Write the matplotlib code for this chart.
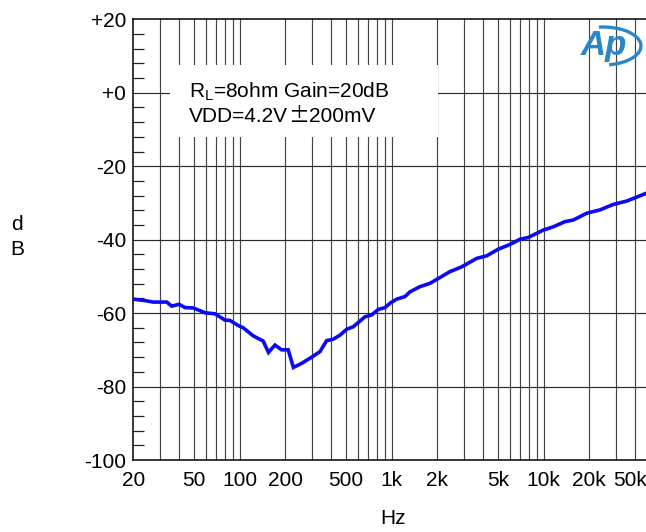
import matplotlib
matplotlib.use("Agg")
import matplotlib.pyplot as plt
import matplotlib.transforms as mtransforms
from matplotlib.patches import Rectangle, Arc
from matplotlib.offsetbox import TextArea, HPacker, AnchoredOffsetbox

plt.rcParams['font.family'] = ['Liberation Sans', 'DejaVu Sans']
plt.rcParams['mathtext.fontset'] = 'custom'
plt.rcParams['mathtext.rm'] = 'Liberation Sans'

# PSRR curve
freq = [20, 23.9, 27.1, 33.2, 35.8, 40.1, 43.8, 49.6, 59.3, 69.0, 80.2, 86.5,
        98.2, 105.8, 123, 143, 155, 171, 189, 209, 226, 256, 298, 338, 374,
        414, 458, 507, 560, 669, 740, 818, 906, 977, 1081, 1226, 1322, 1539,
        1790, 2425, 2894, 3632, 4228, 5036, 6015, 7000, 7941, 8788, 9958,
        11590, 13840, 15700, 19230, 23500, 28770, 35240, 47200]
psrr = [-56.2, -56.6, -57.0, -57.0, -58.1, -57.6, -58.5, -58.6, -59.9, -60.2,
        -61.9, -62.0, -63.4, -64.0, -66.2, -67.6, -70.7, -68.7, -70.0, -70.0,
        -74.8, -73.7, -72.0, -70.5, -67.5, -67.1, -66.0, -64.4, -63.7, -61.0,
        -60.5, -59.0, -58.5, -57.3, -56.2, -55.5, -54.2, -52.8, -51.9, -48.7,
        -47.4, -45.1, -44.4, -42.6, -41.3, -39.9, -39.4, -38.5, -37.4, -36.5,
        -35.1, -34.65, -32.8, -31.9, -30.4, -29.5, -27.4]

xticks = [20, 50, 100, 200, 500, 1000, 2000, 5000, 10000, 20000, 50000]
xlabels = ['20', '50', '100', '200', '500', '1k', '2k', '5k', '10k', '20k', '50k']
yticks = [-100, -80, -60, -40, -20, 0, 20]
ylabels = ['-100', '-80', '-60', '-40', '-20', '+0', '+20']

FS = 15
W, H = 646, 532
fig = plt.figure(figsize=(W / 100, H / 100), dpi=100)
ax = fig.add_axes([133.3 / W, (H - 460) / H, 516.5 / W, 440.7 / H])

ax.set_xscale('log')
ax.set_xlim(20, 50000)
ax.set_ylim(-100, 20)

# vertical grid at every 1..9 x decade
vgrid = [m * 10 ** e for e in range(1, 5) for m in range(1, 10)]
vgrid = [v for v in vgrid if 20 < v < 50000]
for v in vgrid:
    ax.axvline(v, color='#444444', lw=0.85, zorder=1)
for y in yticks[1:-1]:
    ax.axhline(y, color='#2a2a2a', lw=0.85, zorder=1)

ax.set_xticks(xticks)
ax.set_xticklabels(xlabels)
ax.xaxis.set_minor_locator(matplotlib.ticker.NullLocator())
ax.set_yticks(yticks)
ax.set_yticklabels(ylabels)
ax.set_yticks([v for v in range(-100, 21, 4) if v % 20], minor=True)
ax.tick_params(axis='x', length=0, pad=8, labelsize=FS)
ax.tick_params(axis='y', which='major', length=0, pad=5, labelsize=FS)
ax.tick_params(axis='y', which='minor', direction='in', length=8, width=0.9,
               color='#222222')
ax.xaxis.get_ticklabels()[-1].set_visible(False)
lab_tr = mtransforms.offset_copy(
    mtransforms.blended_transform_factory(ax.transData, ax.transAxes),
    fig=fig, x=-3, y=-8 * 100 / 72, units='dots')
ax.text(50000, 0, '50k', transform=lab_tr, ha='right', va='top', fontsize=FS)

for s in ax.spines.values():
    s.set_linewidth(1.1)
    s.set_color('black')

ax.plot(freq, psrr, color='#0a0af5', lw=2.6, zorder=4, solid_joinstyle='miter')

# white box behind the annotation
fig.patches.append(Rectangle((170 / W, 1 - 137 / H), 268 / W, 72 / H,
                             transform=fig.transFigure, facecolor='white',
                             edgecolor='none', zorder=3))
fig.text(189 / W, 1 - 97 / H, r'R$_\mathregular{L}$=8ohm Gain=20dB',
         fontsize=FS, va='baseline', zorder=5)
line2 = HPacker(children=[
    TextArea('VDD=4.2V', textprops=dict(fontsize=FS)),
    TextArea('\u00b1', textprops=dict(fontsize=FS, family=['Noto Sans CJK SC'])),
    TextArea('200mV', textprops=dict(fontsize=FS))], pad=0, sep=0, align='baseline')
ab = AnchoredOffsetbox(loc='lower left', child=line2, frameon=False, pad=0,
                       borderpad=0, bbox_to_anchor=(189 / W, 1 - 127 / H),
                       bbox_transform=fig.transFigure)
ab.set_zorder(5)
fig.add_artist(ab)

# AP logo
fig.text(604 / W, 1 - 45 / H, 'Ap', fontsize=25, fontweight='bold', style='italic',
         color='#2a86c8', ha='center', va='center')
fig.patches.append(Arc((603 / W, 1 - 46 / H), 76 / W, 38 / H, theta1=-75, theta2=100,
                       transform=fig.transFigure, color='#2a86c8', lw=2.4))

fig.text(393 / W, 1 - 518 / H, 'Hz', fontsize=FS, ha='center', va='center')
fig.text(17 / W, 1 - 237 / H, 'd\nB', fontsize=FS, ha='center', va='center',
         linespacing=1.45)

fig.savefig('out.png', dpi=100)
